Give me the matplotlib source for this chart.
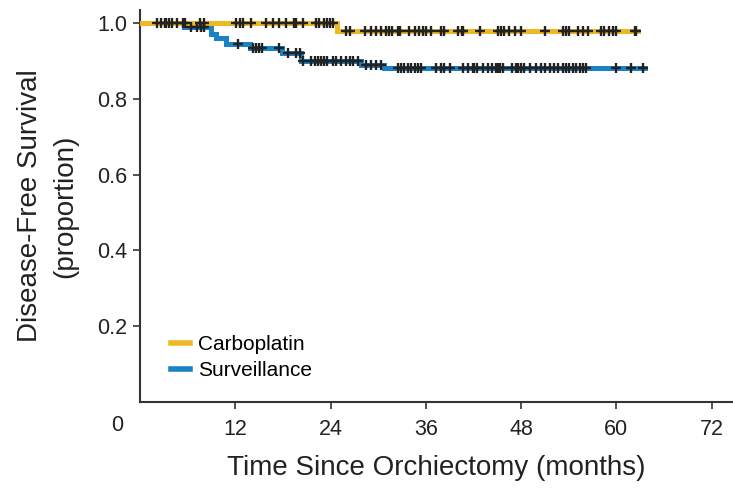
import numpy as np
import matplotlib
matplotlib.use('Agg')
import matplotlib.pyplot as plt

plt.rcParams['font.family'] = ['Liberation Sans Narrow', 'Liberation Sans', 'DejaVu Sans']

# Kaplan-Meier step data (months, survival proportion)
carbo_times = [0, 24.8, 62.7]
carbo_surv = [1.0, 0.979, 0.979]
carbo_censor = [2.2, 2.6, 3.1, 3.6, 4.0, 4.6, 5.4, 5.7, 7.5, 8.0,
                12.1, 12.6, 13.0, 14.0, 15.9, 16.7, 17.5, 18.4, 19.4, 19.7,
                20.5, 22.2, 22.6, 23.2, 23.6, 23.9, 24.3,
                26.0, 26.4, 28.3, 29.1, 29.7, 30.4, 31.0,
                31.4, 31.8, 32.5, 32.8, 33.9, 34.6, 35.2, 35.6, 36.0, 36.7,
                37.9, 38.3, 40.0, 40.5, 40.7, 42.8, 45.1, 45.5, 45.9, 46.5,
                47.2, 48.0, 51.0, 53.3, 53.7, 54.1, 55.2, 55.8, 56.4, 58.1,
                58.5, 59.1, 59.6, 60.0, 62.3, 62.5]

surv_times = [0, 5.5, 9.0, 9.6, 10.8, 13.8, 17.9, 20.3, 27.9, 30.7, 63.6]
surv_surv = [1.0, 0.988, 0.972, 0.96, 0.945, 0.935, 0.92, 0.90, 0.89, 0.88, 0.88]
surv_censor = [3.3, 6.4, 7.2, 7.7, 8.1,
               12.3, 14.2, 14.6, 15.0, 15.4, 17.5, 18.6, 19.7, 20.1,
               20.5, 21.5, 22.0, 22.4, 22.8, 23.2, 23.6, 24.3, 24.7, 25.3,
               26.0, 26.4, 26.8, 27.4, 28.5, 29.1, 29.7, 30.4,
               32.5, 32.9, 33.3, 33.7, 34.1, 34.6, 35.0, 35.4, 37.3, 37.9,
               38.3, 39.0, 40.7, 41.3, 41.9, 42.1, 42.5, 43.2, 43.8, 44.4,
               44.9, 45.1, 45.4, 45.7, 46.8, 47.4, 47.6, 48.0, 48.4, 49.1,
               49.9, 50.5, 51.0, 51.6, 52.2, 52.6, 53.3, 53.7, 54.1, 54.5,
               54.9, 55.4, 55.8, 56.2, 60.0, 61.9, 63.3]

yellow = '#ECB922'
blue = '#1B82C5'


def at(times, surv, t):
    idx = np.searchsorted(times, t, side='right') - 1
    return np.asarray(surv)[idx]


fig = plt.figure(figsize=(7.33, 4.88), dpi=100)
ax = fig.add_axes([0.191, 0.176, 0.809, 0.8035])

ax.step(carbo_times, carbo_surv, where='post', color=yellow, lw=3.6,
        solid_joinstyle='miter', label='Carboplatin', zorder=3)
ax.step(surv_times, surv_surv, where='post', color=blue, lw=3.6,
        solid_joinstyle='miter', label='Surveillance', zorder=2)
ax.plot(carbo_censor, at(carbo_times, carbo_surv, carbo_censor), '+',
        color='#222222', ms=7, mew=1.7, zorder=4)
ax.plot(surv_censor, at(surv_times, surv_surv, surv_censor), '+',
        color='#222222', ms=7, mew=1.7, zorder=4)

ax.set_xlim(0, 74.7)
ax.set_ylim(0, 1.034)
ax.set_xticks([12, 24, 36, 48, 60, 72])
ax.set_yticks([0.2, 0.4, 0.6, 0.8, 1.0])
ax.set_yticklabels(['0.2', '0.4', '0.6', '0.8', '1.0'])
ax.tick_params(direction='out', length=5, width=1.2, color='#333333',
               labelsize=15.5, labelcolor='#222222')
ax.tick_params(axis='x', pad=7)
ax.tick_params(axis='y', pad=4)
ax.text(-2.9, -0.062, '0', fontsize=15.5, color='#222222', ha='center', va='center')

for s in ['top', 'right']:
    ax.spines[s].set_visible(False)
for s in ['left', 'bottom']:
    ax.spines[s].set_linewidth(1.5)
    ax.spines[s].set_color('#333333')

ax.set_xlabel('Time Since Orchiectomy (months)', fontsize=20, color='#222222', labelpad=11)
ax.set_ylabel('Disease-Free Survival\n(proportion)', fontsize=20, color='#222222',
              labelpad=14, linespacing=1.45)

leg = ax.legend(loc='lower left', bbox_to_anchor=(0.02, 0.008), frameon=False,
                fontsize=15, handlelength=0.95, handletextpad=0.35, labelspacing=0.35)
for line in leg.get_lines():
    line.set_linewidth(4)

fig.savefig('out.png', dpi=100)
